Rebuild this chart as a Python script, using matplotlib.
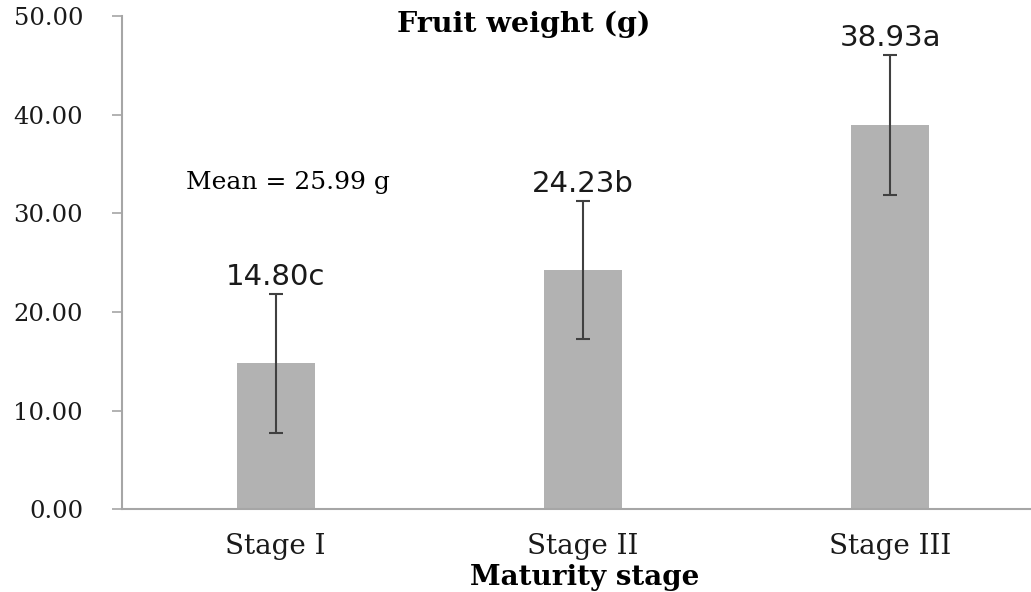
#!/usr/bin/env python3
"""Fruit weight by maturity stage, bars with error bars"""

import numpy as np
import matplotlib
matplotlib.use("Agg")
import matplotlib.pyplot as plt

stages = ["Stage I", "Stage II", "Stage III"]
weight = [14.80, 24.23, 38.93]
err = [7.05, 7.0, 7.1]
letters = ["c", "b", "a"]
yticks = [0, 10, 20, 30, 40, 50]

serif = "DejaVu Serif"

fig = plt.figure(figsize=(10.31, 5.92), dpi=100)
ax = fig.add_axes([122 / 1031, 82.7 / 592, 922 / 1031, 493.3 / 592])

x = np.arange(len(stages))
ax.bar(x, weight, 0.254, color="#b2b2b2", zorder=2)
ax.errorbar(x, weight, yerr=err, fmt="none", ecolor="#404040",
            elinewidth=1.5, capsize=4.7, capthick=1.5, zorder=3)

for xi, w, e, l in zip(x, weight, err, letters):
    ax.annotate(f"{w:.2f}{l}", (xi, w + e), xytext=(0, 2),
                textcoords="offset points", ha="center", va="bottom",
                fontsize=21, family="DejaVu Sans", color="#1a1a1a")

ax.set_xlim(-0.5, 2.5)
ax.set_ylim(0, 50)
ax.set_yticks(yticks)
ax.set_yticklabels([f"{v:.2f}" for v in yticks], family=serif, fontsize=17.5)
ax.set_xticks(x)
ax.set_xticklabels(stages, family=serif, fontsize=20)

for s in ["top", "right"]:
    ax.spines[s].set_visible(False)
for s in ["left", "bottom"]:
    ax.spines[s].set_color("#a6a6a6")
    ax.spines[s].set_linewidth(1.5)
ax.tick_params(axis="y", direction="out", length=7, width=1.2,
               color="#a6a6a6", pad=21, labelcolor="#1a1a1a")
ax.tick_params(axis="x", length=0, pad=17, labelcolor="#1a1a1a")

ax.text(524 / 1031, 1 - 11 / 592, "Fruit weight (g)", transform=fig.transFigure,
        ha="center", va="top", fontsize=20.5, fontweight="bold", family=serif)
ax.text(585 / 1031, 1 / 592, "Maturity stage", transform=fig.transFigure,
        ha="center", va="bottom", fontsize=20, fontweight="bold", family=serif)
ax.text(186 / 1031, 1 - 182 / 592, "Mean = 25.99 g", transform=fig.transFigure,
        ha="left", va="center", fontsize=18, family=serif)

fig.savefig("out.png", dpi=100)
